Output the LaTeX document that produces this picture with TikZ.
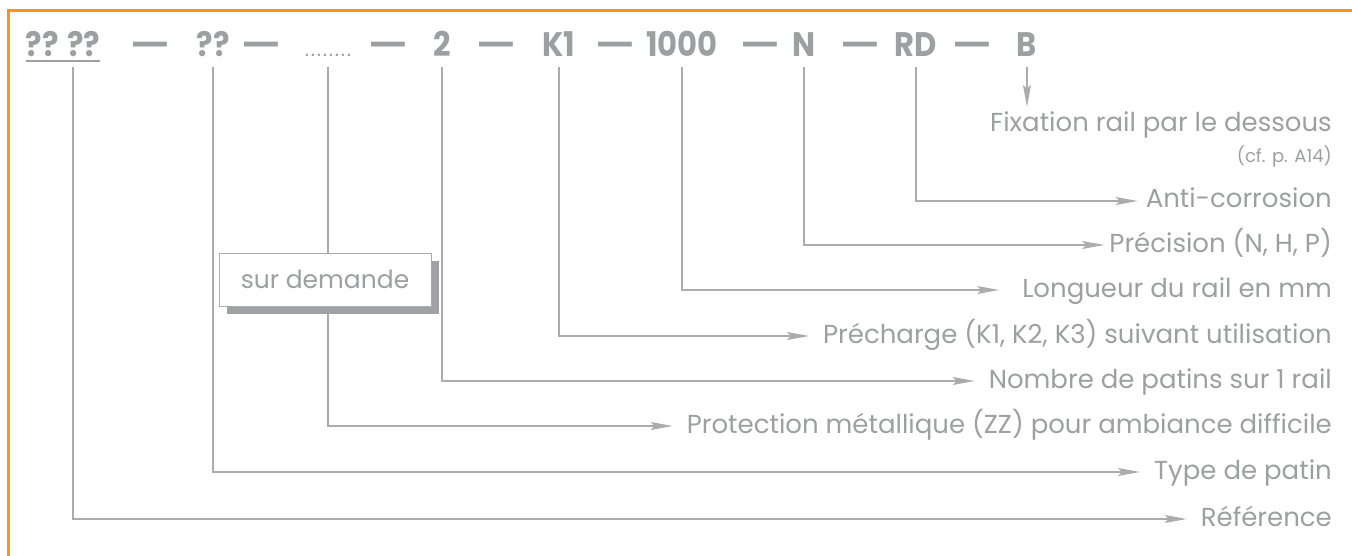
\documentclass[tikz,border=0pt]{standalone}
\usepackage{fontspec}
\setmainfont{Poppins}
\newfontfamily\codefont{Poppins}[FakeStretch=0.9]
\usetikzlibrary{arrows.meta, shadows}

\definecolor{frameorange}{RGB}{247,148,29}
\definecolor{textgray}{RGB}{157,159,163}
\definecolor{linegray}{RGB}{172,172,175}
\definecolor{shadowgray}{RGB}{160,161,165}

\newcommand{\codedash}{\scalebox{1.4}[1]{—}}

\tikzset{
  code/.style={anchor=base, inner sep=0pt, text=textgray,
    font=\codefont\fontsize{34}{34}\selectfont\bfseries},
  label/.style={anchor=east, inner sep=0pt, text height=14pt, text depth=0pt,
    text=textgray, font=\fontsize{26}{26}\selectfont},
  conn/.style={draw=linegray, line width=1.2pt, shorten >=14pt,
    -{Stealth[length=22pt, width=8pt, inset=4pt]}},
}

\begin{document}
\begin{tikzpicture}[x=1pt, y=-1pt]
    \useasboundingbox (0,0) rectangle (1352,556);
    % Orange frame, open to the right and below
    \draw[frameorange, line width=3pt] (1352,11) -- (8,11) -- (8,556);

    % The order code
    \node[code] (ref) at (63,57) {?? ??};
    \node[code] at (150,57) {\codedash};
    \node[code] (type) at (213,57) {??};
    \node[code] at (261,57) {\codedash};
    \node[code, font=\fontsize{20}{20}\selectfont\addfontfeature{LetterSpace=9}] (prot) at (328,57) {........};
    \node[code] at (388,57) {\codedash};
    \node[code] (nbr) at (442,57) {2};
    \node[code] at (496,57) {\codedash};
    \node[code] (prech) at (559,57) {K1};
    \node[code] at (615,57) {\codedash};
    \node[code] (long) at (682,57) {1000};
    \node[code] at (760,57) {\codedash};
    \node[code] (prec) at (804,57) {N};
    \node[code] at (860,57) {\codedash};
    \node[code] (anti) at (916,57) {RD};
    \node[code] at (972,57) {\codedash};
    \node[code] (fix) at (1027,57) {B};
    \draw[textgray, line width=1.5pt] ([yshift=-4pt]ref.base west) -- ([yshift=-4pt]ref.base east);

    % Labels
    \node[label, anchor=base east] (lfix) at (1332,132) {Fixation rail par le dessous};
    \node[label, anchor=base east, font=\fontsize{18}{18}\selectfont] (lcf) at (1332,163) {(cf. p. A14)};
    \node[label] (lanti) at (1332,201) {Anti-corrosion};
    \node[label] (lprec) at (1332,245) {Précision (N, H, P)};
    \node[label] (llong) at (1332,290) {Longueur du rail en mm};
    \node[label] (lprech) at (1332,336) {Précharge (K1, K2, K3) suivant utilisation};
    \node[label] (lnbr) at (1332,381) {Nombre de patins sur 1 rail};
    \node[label] (lprot) at (1332,426) {Protection métallique (ZZ) pour ambiance difficile};
    \node[label] (ltype) at (1332,472) {Type de patin};
    \node[label] (lref) at (1332,519) {Référence};

    % Connectors
    \coordinate (fixend) at (1027,107);
    \draw[conn, shorten >=0pt] ([yshift=-10pt]fix.base) -- (fixend);
    \draw[conn, shorten >=8pt] ([yshift=-10pt]anti.base) |- (lanti.west);
    \draw[conn, shorten >=5pt] ([yshift=-10pt]prec.base) |- (lprec.west);
    \draw[conn, shorten >=23pt] ([yshift=-10pt]long.base) |- (llong.west);
    \draw[conn] ([yshift=-10pt]prech.base) |- (lprech.west);
    \draw[conn] ([yshift=-10pt]nbr.base) |- (lnbr.west);
    \draw[conn] ([yshift=-10pt]prot.base) |- (lprot.west);
    \draw[conn] ([yshift=-10pt]type.base) |- (ltype.west);
    \draw[conn] ([xshift=10pt, yshift=-10pt]ref.base) |- (lref.west);

    % Box over the line of the protection
    \node[draw=linegray, line width=1pt, fill=white, text=textgray,
      minimum width=212pt, minimum height=53pt, font=\fontsize{25}{25}\selectfont,
      drop shadow={shadow xshift=8pt, shadow yshift=-8pt, fill=shadowgray, opacity=1}]
      (demande) at (325,279.5) {sur demande};
\end{tikzpicture}
\end{document}
